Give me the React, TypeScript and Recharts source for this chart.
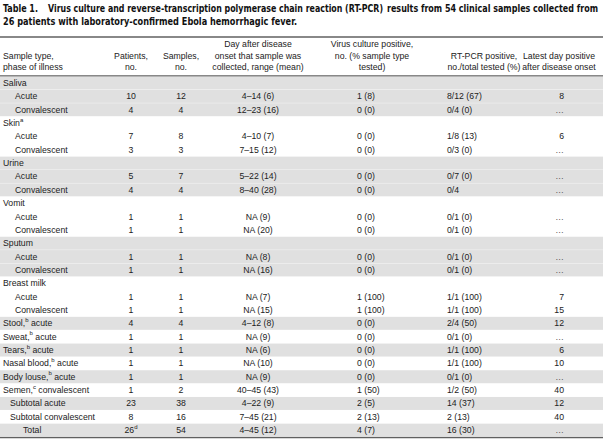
import React from 'react';
import { BarChart, Bar, XAxis, YAxis, Customized } from 'recharts';

const titleLabel = 'Table 1.';
const titleParts = [
    'Virus culture and reverse-transcription polymerase chain reaction (RT-PCR)',
    'results from 54 clinical samples collected from',
    '26 patients with laboratory-confirmed Ebola hemorrhagic fever.'
];

const headerLines = [
    ['Sample type,', 'phase of illness'],
    ['Patients,', 'no.'],
    ['Samples,', 'no.'],
    ['Day after disease', 'onset that sample was', 'collected, range (mean)'],
    ['Virus culture positive,', 'no. (% sample type', 'tested)'],
    ['RT-PCR positive,', 'no./total tested (%)'],
    ['Latest day positive', 'after disease onset']
];

const sampleLabels = [
    'Saliva', 'Acute', 'Convalescent',
    'Skin^a', 'Acute', 'Convalescent',
    'Urine', 'Acute', 'Convalescent',
    'Vomit', 'Acute', 'Convalescent',
    'Sputum', 'Acute', 'Convalescent',
    'Breast milk', 'Acute', 'Convalescent',
    'Stool,^b acute', 'Sweat,^b acute', 'Tears,^b acute', 'Nasal blood,^b acute', 'Body louse,^b acute',
    'Semen,^c convalescent', 'Subtotal acute', 'Subtotal convalescent', 'Total'
];
// 0 = group, 1 = phase, 2 = subtotal, 3 = total
const indentLevels = [0, 1, 1, 0, 1, 1, 0, 1, 1, 0, 1, 1, 0, 1, 1, 0, 1, 1, 0, 0, 0, 0, 0, 0, 2, 2, 3];
const shaded = [1, 1, 1, 0, 0, 0, 1, 1, 1, 0, 0, 0, 1, 1, 1, 0, 0, 0, 1, 0, 1, 0, 1, 0, 1, 0, 1];

const patients = ['', '10', '4', '', '7', '3', '', '5', '4', '', '1', '1', '', '1', '1', '', '1', '1', '4', '1', '1', '1', '1', '1', '23', '8', '26^d'];
const samples = ['', '12', '4', '', '8', '3', '', '7', '4', '', '1', '1', '', '1', '1', '', '1', '1', '4', '1', '1', '1', '1', '2', '38', '16', '54'];
const dayRange = [
    '', '4–14 (6)', '12–23 (16)', '', '4–10 (7)', '7–15 (12)', '', '5–22 (14)', '8–40 (28)',
    '', 'NA (9)', 'NA (20)', '', 'NA (8)', 'NA (16)', '', 'NA (7)', 'NA (15)',
    '4–12 (8)', 'NA (9)', 'NA (6)', 'NA (10)', 'NA (9)', '40–45 (43)', '4–22 (9)', '7–45 (21)', '4–45 (12)'
];
const culturePositive = [
    '', '1 (8)', '0 (0)', '', '0 (0)', '0 (0)', '', '0 (0)', '0 (0)',
    '', '0 (0)', '0 (0)', '', '0 (0)', '0 (0)', '', '1 (100)', '1 (100)',
    '0 (0)', '0 (0)', '0 (0)', '0 (0)', '0 (0)', '1 (50)', '2 (5)', '2 (13)', '4 (7)'
];
const pcrPositive = [
    '', '8/12 (67)', '0/4 (0)', '', '1/8 (13)', '0/3 (0)', '', '0/7 (0)', '0/4',
    '', '0/1 (0)', '0/1 (0)', '', '0/1 (0)', '0/1 (0)', '', '1/1 (100)', '1/1 (100)',
    '2/4 (50)', '0/1 (0)', '1/1 (100)', '1/1 (100)', '0/1 (0)', '1/2 (50)', '14 (37)', '2 (13)', '16 (30)'
];
const latestDay = [
    '', '8', '…', '', '6', '…', '', '…', '…', '', '…', '…', '', '…', '…', '', '7', '15',
    '12', '…', '6', '10', '…', '40', '12', '40', '…'
];

const rows = sampleLabels.map((label, i) => ({
    key: `r${i}`,
    label,
    indent: indentLevels[i],
    shaded: shaded[i],
    patients: patients[i],
    samples: samples[i],
    day: dayRange[i],
    culture: culturePositive[i],
    pcr: pcrPositive[i],
    latest: latestDay[i],
    span: 603
}));

const FONT = "'Liberation Sans', Arial, Helvetica, sans-serif";
const TITLE_FONT = "'Liberation Sans Narrow', 'DejaVu Sans Condensed', sans-serif";
const TEXT_SIZE = 8.7;
const TEXT_COLOR = '#222';
const SHADE = '#e0e0e0';
const RULE = '#606060';

const indentX = [3, 15, 10, 23];

// renders "Stool,^b acute" with a superscript
const SupText = ({ value, x, y, anchor }: { value: string; x: number; y: number; anchor: string }) => {
    const parts = value.split(/\^(\w)/);
    return (
        <text x={x} y={y} textAnchor={anchor} dominantBaseline="central" fontFamily={FONT}
            fontSize={TEXT_SIZE} fill={value === '…' ? '#555' : TEXT_COLOR} style={{ whiteSpace: 'pre' }}>
            {parts.length === 1 ? value : (
                <>
                    <tspan>{parts[0]}</tspan>
                    <tspan dy={-3.5} fontSize={6}>{parts[1]}</tspan>
                    {parts[2] ? <tspan dy={3.5} fontSize={TEXT_SIZE}>{parts[2]}</tspan> : null}
                </>
            )}
        </text>
    );
};

const RowShape = (props: any) => {
    const { y, height, payload } = props;
    const cy = y + height / 2;
    return (
        <g>
            {payload.shaded ? <rect x={0} y={y} width={603} height={height} fill={SHADE} /> : null}
            <SupText value={payload.label} x={indentX[payload.indent]} y={cy} anchor="start" />
            <SupText value={payload.patients} x={131} y={cy} anchor="middle" />
            <SupText value={payload.samples} x={181} y={cy} anchor="middle" />
            <SupText value={payload.day} x={258} y={cy} anchor="middle" />
            <SupText value={payload.culture} x={357} y={cy} anchor="start" />
            <SupText value={payload.pcr} x={447} y={cy} anchor="start" />
            <SupText value={payload.latest} x={564} y={cy} anchor="end" />
        </g>
    );
};

const headerX = [3, 131, 181, 258, 372, 484, 559];

const TitleText = ({ x, y, len, children }: { x: number; y: number; len: number; children: string }) => (
    <text x={x} y={y} fontSize={8.8} fontFamily={TITLE_FONT} fontWeight="bold" fill="#111"
        textLength={len} lengthAdjust="spacingAndGlyphs" transform={`translate(0 ${y}) scale(1 1.15) translate(0 ${-y})`}>
        {children}
    </text>
);

const TableHeader = () => (
    <g>
        <TitleText x={3} y={12} len={35}>{titleLabel}</TitleText>
        <TitleText x={48} y={12} len={335}>{titleParts[0]}</TitleText>
        <TitleText x={387} y={12} len={211}>{titleParts[1]}</TitleText>
        <TitleText x={3} y={25} len={294}>{titleParts[2]}</TitleText>
        <line x1={0} x2={603} y1={37} y2={37} stroke={RULE} strokeWidth={1.5} />
        {headerLines.map((lines, c) =>
            lines.map((line, j) => (
                <text key={`h${c}-${j}`} x={headerX[c]} y={67 - (lines.length - 1 - j) * 11.5}
                    textAnchor={c === 0 ? 'start' : 'middle'} dominantBaseline="central"
                    fontFamily={FONT} fontSize={TEXT_SIZE} fill={TEXT_COLOR}>
                    {line}
                </text>
            ))
        )}
        <line x1={0} x2={603} y1={76} y2={76} stroke={RULE} strokeWidth={1.5} />
        <line x1={0} x2={603} y1={437.5} y2={437.5} stroke={RULE} strokeWidth={1.5} />
    </g>
);

const App: React.FC = () => {
    return (
        <div style={{ position: 'absolute', left: 0, top: 0, background: '#fff' }}>
            <BarChart
                width={603}
                height={444}
                data={rows}
                layout="vertical"
                barCategoryGap={0}
                margin={{ top: 76.5, right: 0, bottom: 7, left: 0 }}
            >
                <XAxis type="number" domain={[0, 603]} hide />
                <YAxis type="category" dataKey="key" hide width={0} />
                <Bar dataKey="span" isAnimationActive={false} shape={<RowShape />} />
                <Customized component={<TableHeader />} />
            </BarChart>
        </div>
    );
};

export default App;
